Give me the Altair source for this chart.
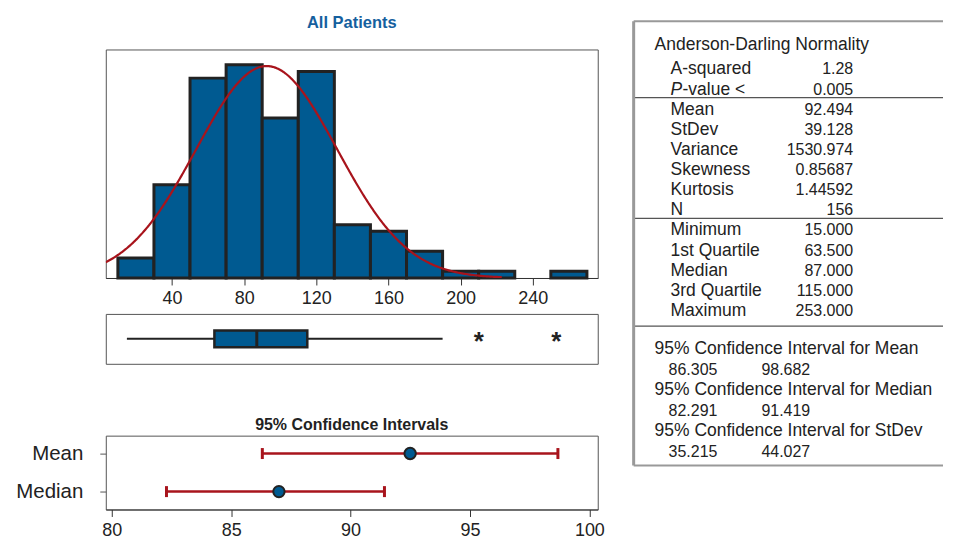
import altair as alt
import pandas as pd

BLUE = "#005a91"
RED = "#a8141c"
DARK = "#222222"
FONT = "Liberation Sans"

# ---------------- data ----------------
bin_start = [10, 30, 50, 70, 90, 110, 130, 150, 170, 190, 210, 230, 250]
bin_end = [30, 50, 70, 90, 110, 130, 150, 170, 190, 210, 230, 250, 270]
counts = [3, 14, 30, 32, 24, 31, 8, 7, 4, 1, 1, 0, 1]
hist_ticks = [40, 80, 120, 160, 200, 240]

MEAN, STDEV, N, BIN_W = 92.494, 39.128, 156, 20
curve_from, curve_to = 3.3, 223.0

box_min, box_q1, box_median, box_q3, box_wmax = 15.0, 63.5, 87.0, 115.0, 190.0
outliers = [210, 253]

ci_names = ["Mean", "Median"]
ci_est = [92.494, 87.0]
ci_lo = [86.305, 82.291]
ci_hi = [98.682, 91.419]
ci_ticks = [80, 85, 90, 95, 100]

table_header = "Anderson-Darling Normality"
stat_labels = ["A-squared", "P-value <", "Mean", "StDev", "Variance", "Skewness",
               "Kurtosis", "N", "Minimum", "1st Quartile", "Median", "3rd Quartile", "Maximum"]
stat_values = ["1.28", "0.005", "92.494", "39.128", "1530.974", "0.85687",
               "1.44592", "156", "15.000", "63.500", "87.000", "115.000", "253.000"]
ci_titles = ["95% Confidence Interval for Mean",
             "95% Confidence Interval for Median",
             "95% Confidence Interval for StDev"]
ci_tab_lo = ["86.305", "82.291", "35.215"]
ci_tab_hi = ["98.682", "91.419", "44.027"]

# ---------------- histogram ----------------
xs = alt.Scale(domain=[3.3, 276], nice=False, zero=False)
ys = alt.Scale(domain=[0, 34.3], nice=False, zero=True)
hist_axis = alt.Axis(values=hist_ticks, title=None, grid=False, labelFontSize=18,
                     labelColor=DARK, tickSize=7, tickColor="#333", domainColor="#333",
                     labelPadding=5, labelFont=FONT)

hist_df = pd.DataFrame({"start": bin_start, "end": bin_end, "count": counts})
bars = alt.Chart(hist_df).transform_filter("datum.count > 0").mark_rect(
    fill=BLUE, stroke=DARK, strokeWidth=3
).encode(
    x=alt.X("start:Q", scale=xs, axis=hist_axis),
    x2="end:Q",
    y=alt.Y("count:Q", scale=ys, axis=None),
    y2=alt.datum(0),
)
curve = alt.Chart(alt.sequence(curve_from, curve_to, 0.5, as_="x")).transform_calculate(
    density=f"{N}*{BIN_W}*exp(-0.5*pow((datum.x-{MEAN})/{STDEV},2))/({STDEV}*sqrt(2*PI))"
).mark_line(color=RED, strokeWidth=2.2, clip=True).encode(
    x=alt.X("x:Q", scale=xs, axis=hist_axis),
    y=alt.Y("density:Q", scale=ys, axis=None),
)
hist = alt.layer(bars, curve).properties(
    width=493, height=229,
    title=alt.TitleParams("All Patients", color="#15609e", fontSize=16.5, fontWeight="bold",
                          font=FONT, offset=18),
)

# ---------------- boxplot ----------------
box_df = pd.DataFrame({"grp": ["All"], "mn": [box_min], "q1": [box_q1], "med": [box_median],
                       "q3": [box_q3], "mx": [box_wmax]})
out_df = pd.DataFrame({"grp": ["All"] * len(outliers), "v": outliers})
yb = alt.Y("grp:N", axis=None, scale=alt.Scale(type="point", padding=0.5))
w1 = alt.Chart(box_df).mark_rule(color=DARK, strokeWidth=2).encode(
    x=alt.X("mn:Q", scale=xs, axis=None), x2="q1:Q", y=yb)
w2 = alt.Chart(box_df).mark_rule(color=DARK, strokeWidth=2).encode(
    x=alt.X("q3:Q", scale=xs, axis=None), x2="mx:Q", y=yb)
boxbar = alt.Chart(box_df).mark_bar(size=17, fill=BLUE, stroke=DARK, strokeWidth=2.5).encode(
    x=alt.X("q1:Q", scale=xs, axis=None), x2="q3:Q", y=yb)
medtick = alt.Chart(box_df).mark_tick(size=17, thickness=3, color=DARK, opacity=1).encode(
    x=alt.X("med:Q", scale=xs, axis=None), y=yb)
outs = alt.Chart(out_df).mark_text(text="*", fontSize=26, fontWeight="bold", color=DARK,
                                   baseline="middle", dy=3, font=FONT).encode(
    x=alt.X("v:Q", scale=xs, axis=None), y=yb)
box = alt.layer(w1, w2, boxbar, medtick, outs).properties(width=493, height=50)

# ---------------- CI plot ----------------
ci_df = pd.DataFrame({"stat": ci_names, "est": ci_est, "lo": ci_lo, "hi": ci_hi})
cxs = alt.Scale(domain=[79.75, 100.35], nice=False, zero=False)
ci_xaxis = alt.Axis(values=ci_ticks, title=None, grid=False, labelFontSize=18, labelColor=DARK,
                    tickSize=7, tickColor="#333", domainColor="#333", labelPadding=5, labelFont=FONT)
yc = alt.Y("stat:N", sort=ci_names, scale=alt.Scale(type="point", padding=0.47),
           axis=alt.Axis(title=None, labelFontSize=20.5, labelColor=DARK, tickSize=6,
                         tickColor="#555", domain=False, labelPadding=17, labelFont=FONT))
ci_rule = alt.Chart(ci_df).mark_rule(color=RED, strokeWidth=2.5).encode(
    x=alt.X("lo:Q", scale=cxs, axis=ci_xaxis), x2="hi:Q", y=yc)
cap_lo = alt.Chart(ci_df).mark_tick(size=11, thickness=3, color=RED, opacity=1).encode(
    x=alt.X("lo:Q", scale=cxs, axis=ci_xaxis), y=yc)
cap_hi = alt.Chart(ci_df).mark_tick(size=11, thickness=3, color=RED, opacity=1).encode(
    x=alt.X("hi:Q", scale=cxs, axis=ci_xaxis), y=yc)
ci_pt = alt.Chart(ci_df).mark_point(filled=True, size=130, fill=BLUE, stroke=DARK,
                                    strokeWidth=2, opacity=1, shape="circle").encode(
    x=alt.X("est:Q", scale=cxs, axis=ci_xaxis), y=yc)
ci = alt.layer(ci_rule, cap_lo, cap_hi, ci_pt).properties(
    width=493, height=74,
    title=alt.TitleParams("95% Confidence Intervals", color=DARK, fontSize=16,
                          fontWeight="bold", font=FONT, offset=3),
)

left = alt.vconcat(alt.vconcat(hist, box, spacing=4), ci, spacing=51)

# ---------------- table ----------------
ORIG_Y = 50.0
LINE = 20.17
TH = 420
TW = 310
lo_line = -(68 - ORIG_Y) / LINE
ty = alt.Scale(domain=[lo_line, lo_line + TH / LINE], range=[0, TH], nice=False, zero=False)
TFS = 17.5
NFS = 16

stat_df = pd.DataFrame({"label": stat_labels, "value": stat_values,
                        "line": list(range(len(stat_labels)))})
plain_df = stat_df[~stat_df["label"].str.startswith("P-")]
p_df = stat_df[stat_df["label"].str.startswith("P-")].assign(rest=lambda d: d["label"].str[1:])
head_df = pd.DataFrame({"t": [table_header], "line": [-1.19]})
cit_df = pd.DataFrame({"t": ci_titles, "line": [13.9 + 2.03 * i for i in range(3)]})
civ_df = pd.DataFrame({"lo": ci_tab_lo, "hi": ci_tab_hi,
                       "line": [14.95 + 2.03 * i for i in range(3)]})
sep_df = pd.DataFrame({"line": [1.5, 7.5, 12.85]})
frame_h = pd.DataFrame({"line": [-2.30, 19.78]})
frame_v = pd.DataFrame({"a": [-2.30], "b": [19.78]})


def Y(f):
    return alt.Y(f, scale=ty, axis=None)


txt = dict(fontSize=TFS, color=DARK, font=FONT, baseline="middle", dy=2)
num = dict(fontSize=NFS, color=DARK, font=FONT, baseline="middle", dy=2)
t_head = alt.Chart(head_df).mark_text(align="left", **txt).encode(
    x=alt.value(21), y=Y("line:Q"), text="t:N")
t_lab = alt.Chart(plain_df).mark_text(align="left", **txt).encode(
    x=alt.value(37), y=Y("line:Q"), text="label:N")
t_p = alt.Chart(p_df).mark_text(align="left", fontStyle="italic", **txt).encode(
    x=alt.value(37), y=Y("line:Q"), text=alt.value("P"))
t_prest = alt.Chart(p_df).mark_text(align="left", **txt).encode(
    x=alt.value(49), y=Y("line:Q"), text="rest:N")
t_val = alt.Chart(stat_df).mark_text(align="right", **num).encode(
    x=alt.value(220), y=Y("line:Q"), text="value:N")
t_cit = alt.Chart(cit_df).mark_text(align="left", **txt).encode(
    x=alt.value(21), y=Y("line:Q"), text="t:N")
t_cilo = alt.Chart(civ_df).mark_text(align="left", **num).encode(
    x=alt.value(35), y=Y("line:Q"), text="lo:N")
t_cihi = alt.Chart(civ_df).mark_text(align="left", **num).encode(
    x=alt.value(128), y=Y("line:Q"), text="hi:N")
r_sep = alt.Chart(sep_df).mark_rule(color="#555", strokeWidth=1.2).encode(
    x=alt.value(0), x2=alt.value(TW), y=Y("line:Q"))
r_fh = alt.Chart(frame_h).mark_rule(color="#999", strokeWidth=2).encode(
    x=alt.value(0), x2=alt.value(TW), y=Y("line:Q"))
r_fv = alt.Chart(frame_v).mark_rule(color="#999", strokeWidth=3).encode(
    x=alt.value(0), y=Y("a:Q"), y2="b:Q")
table = alt.layer(r_sep, r_fh, r_fv, t_head, t_lab, t_p, t_prest, t_val, t_cit, t_cilo, t_cihi).properties(
    width=TW, height=TH, view=alt.ViewBackground(stroke="transparent"))

chart = alt.hconcat(left, table, spacing=26).properties(
    padding={"left": 7, "top": 6, "right": 0, "bottom": 0}
).configure(font=FONT).configure_view(stroke="#555")

chart.save("out.html", embed_options={"renderer": "svg", "actions": False})
